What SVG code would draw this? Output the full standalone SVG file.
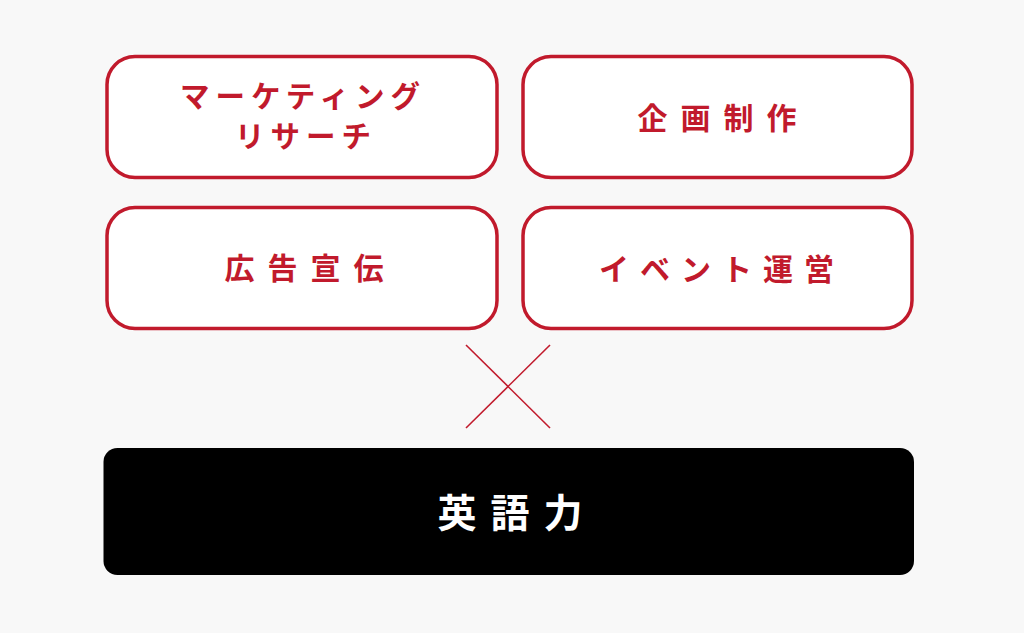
<svg xmlns="http://www.w3.org/2000/svg" width="1024" height="633" viewBox="0 0 1024 633">
<style>
.box{fill:#ffffff;stroke:#c11a2c;stroke-width:3.5}
.t{font-family:"Noto Sans CJK JP","Noto Sans CJK SC",sans-serif;font-weight:700;fill:#c11a2c;text-anchor:middle}
.k{font-size:30px;letter-spacing:13px}
.kat{font-size:29.5px;letter-spacing:6px}
.ev{font-size:30px;letter-spacing:11px}
.en{font-family:"Noto Sans CJK JP","Noto Sans CJK SC",sans-serif;font-weight:700;fill:#ffffff;text-anchor:middle;font-size:39px;letter-spacing:14px}
.x{stroke:#c11a2c;stroke-width:1.6;fill:none}
</style>
<rect width="1024" height="633" fill="#f8f8f8"/>
<g id="node-marketing">
<rect class="box" x="107" y="56.5" width="390" height="121" rx="28"/>
<text class="t kat" x="303" y="107">マーケティング</text>
<text class="t kat" x="306" y="147">リサーチ</text>
</g>
<g id="node-kikaku">
<rect class="box" x="523" y="56.5" width="389" height="121" rx="28"/>
<text class="t k" x="723.5" y="129">企画制作</text>
</g>
<g id="node-koukoku">
<rect class="box" x="107" y="207.5" width="390" height="121" rx="28"/>
<text class="t k" x="310.5" y="279">広告宣伝</text>
</g>
<g id="node-event">
<rect class="box" x="523" y="207.5" width="389" height="121" rx="28"/>
<text class="t ev" x="722" y="280">イベント運営</text>
</g>
<g id="connectors">
<line class="x" x1="466" y1="345" x2="550" y2="428"/>
<line class="x" x1="550" y1="345" x2="466" y2="428"/>
</g>
<g id="node-eigo">
<rect x="103.5" y="448" width="810.5" height="127" rx="14" fill="#000000"/>
<text class="en" x="517" y="527">英語力</text>
</g>
</svg>
